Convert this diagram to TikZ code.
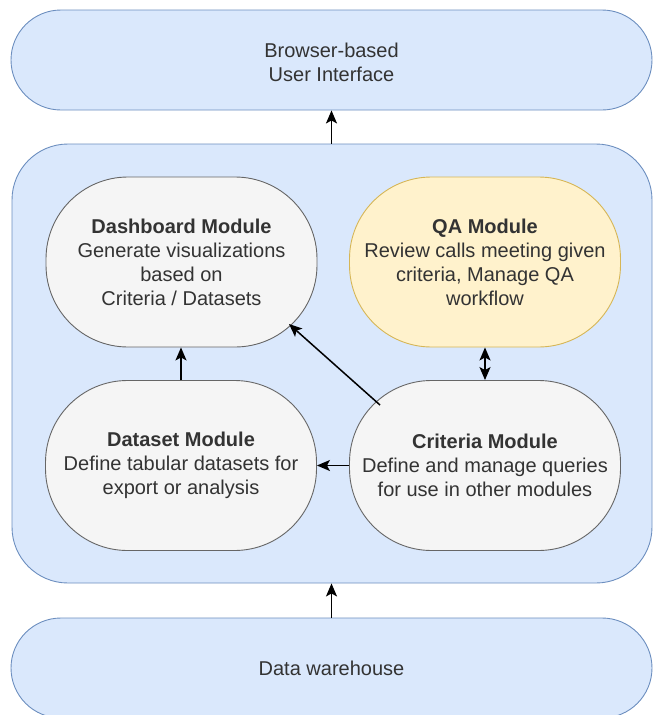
\documentclass[tikz,border=0pt]{standalone}
\usepackage{fontspec}
\setmainfont{Liberation Sans}
\usetikzlibrary{arrows.meta}
\definecolor{bluefill}{HTML}{DAE8FC}
\definecolor{blueline}{HTML}{6C8EBF}
\definecolor{grayfill}{HTML}{F5F5F5}
\definecolor{grayline}{HTML}{666666}
\definecolor{yelfill}{HTML}{FFF2CC}
\definecolor{yelline}{HTML}{D6B656}
\definecolor{txt}{HTML}{333333}
\tikzset{
  bluebox/.style={draw=blueline, fill=bluefill, line width=0.9pt, inner sep=0pt},
  modbox/.style={draw=grayline, fill=grayfill, line width=0.9pt, rounded corners=82pt,
     minimum width=271pt, minimum height=170pt, inner sep=0pt, align=center, text=txt,
     font=\fontsize{20}{24}\selectfont},
  qabox/.style={modbox, draw=yelline, fill=yelfill},
  lbl/.style={align=center, text=txt, font=\fontsize{20}{24}\selectfont},
  tip/.style={Stealth[length=13pt,width=11pt,inset=3pt]},
  arr/.style={-{Stealth[length=13pt,width=11pt,inset=3pt]}, line width=1.5pt, black},
  darr/.style={{Stealth[length=13pt,width=11pt,inset=3pt]}-{Stealth[length=13pt,width=11pt,inset=3pt]}, line width=1.5pt, black}
}
\begin{document}
\begin{tikzpicture}[x=1pt,y=-1pt]
\useasboundingbox (0,0) rectangle (654,715);
% top UI
\node[bluebox, rounded corners=50pt, minimum width=641pt, minimum height=100pt] (ui) at (331.5,60) {};
\node[lbl] (uit) at (331.5,62) {Browser-based\\User Interface};
% container
\node[bluebox, rounded corners=56pt, minimum width=640pt, minimum height=439pt] (cont) at (332,363.5) {};
% data warehouse
\node[bluebox, rounded corners=50pt, minimum width=641pt, minimum height=100pt] (dw) at (331.5,668) {};
\node[lbl] (dwt) at (331.5,668) {Data warehouse};
% modules
\node[modbox] (dash) at (181.5,262) {\textbf{Dashboard Module}\\Generate visualizations\\based on\\Criteria / Datasets};
\node[qabox] (qa) at (485,262) {\textbf{QA Module}\\Review calls meeting given\\criteria, Manage QA\\workflow};
\node[modbox] (data) at (181,465.5) {\textbf{Dataset Module}\\Define tabular datasets for\\export or analysis};
\node[modbox] (crit) at (485,465.5) {\textbf{Criteria Module}\\Define and manage queries\\for use in other modules};
% connectors
\draw[arr] (cont.north -| ui.south) -- (ui.south);
\draw[arr] (dw.north) -- (dw.north |- cont.south);
\draw[arr] (data.north) -- (data.north |- dash.south);
\draw[arr] (crit.west) -- (crit.west -| data.east);
\draw[darr] (qa.south) -- (qa.south |- crit.north);
\coordinate (cdiag) at (380,405);
\coordinate (ddiag) at (289,324);
\draw[arr] (cdiag) -- (ddiag);
\end{tikzpicture}
\end{document}
